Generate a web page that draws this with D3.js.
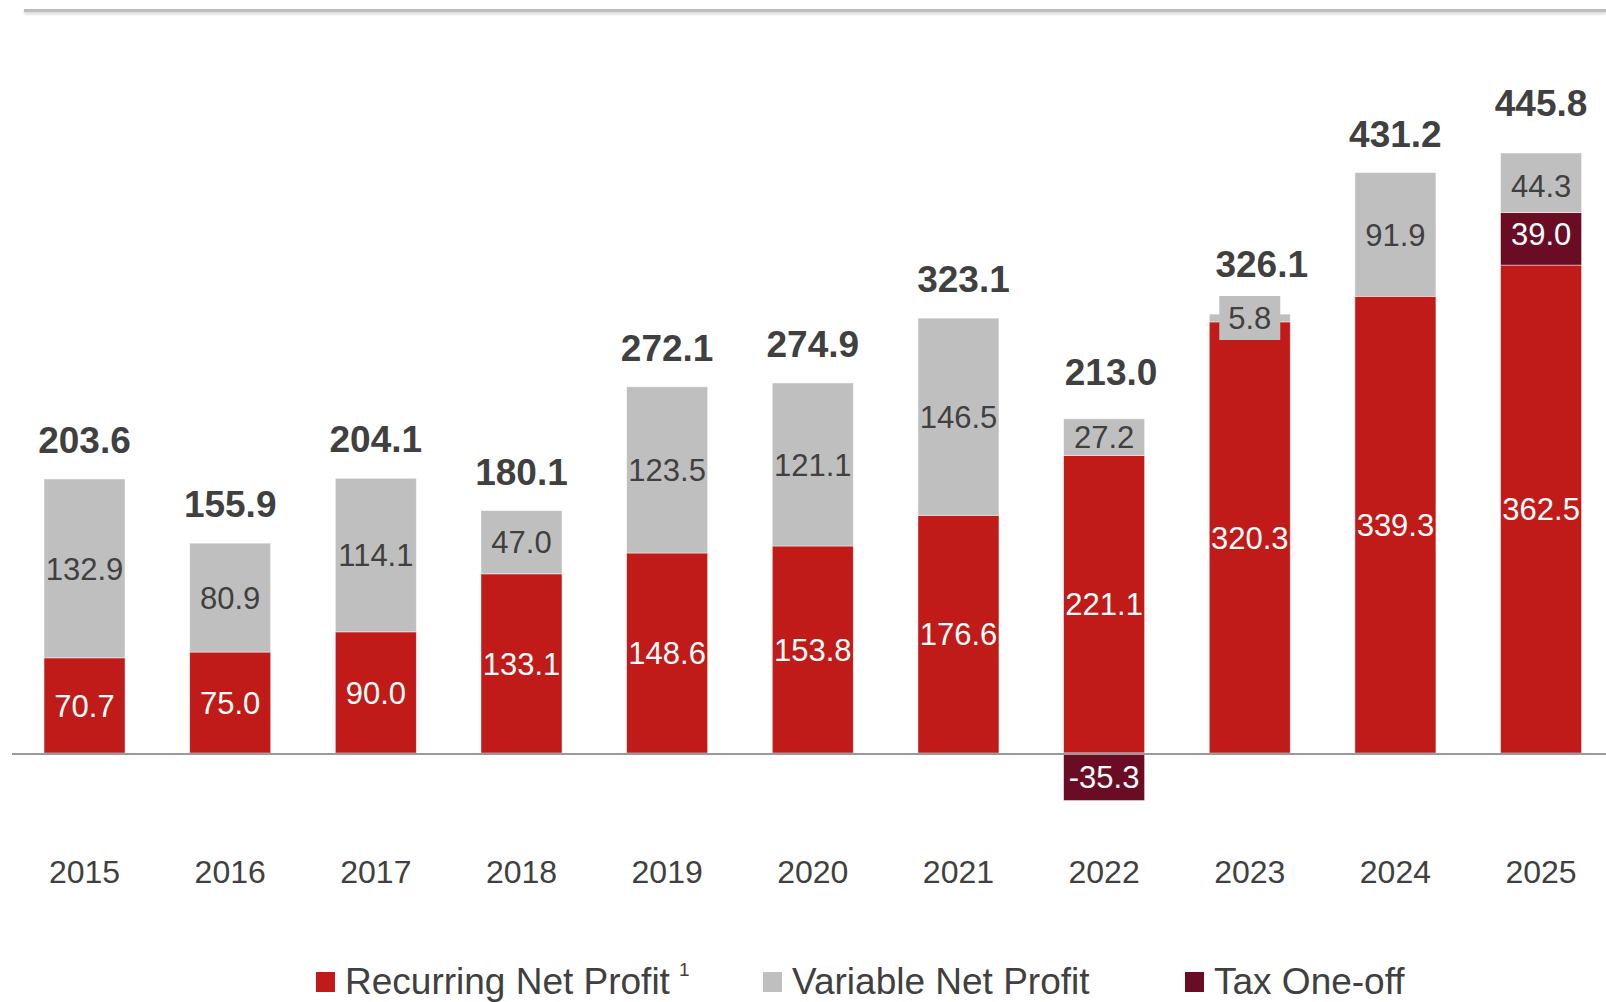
<!DOCTYPE html>
<html>
<head>
<meta charset="utf-8">
<script src="https://cdn.jsdelivr.net/npm/d3@7"></script>
<style>
  html, body { margin: 0; padding: 0; background: #fff; }
  svg { display: block; font-family: "Liberation Sans", Arial, sans-serif; }
</style>
</head>
<body>
<svg id="chart" width="1606" height="1002"></svg>
<script>
// ---- data ----
const years = ["2015","2016","2017","2018","2019","2020","2021","2022","2023","2024","2025"];
const recurring = [70.7, 75.0, 90.0, 133.1, 148.6, 153.8, 176.6, 221.1, 320.3, 339.3, 362.5];
const variable  = [132.9, 80.9, 114.1, 47.0, 123.5, 121.1, 146.5, 27.2, 5.8, 91.9, 44.3];
const taxOneOff = [0, 0, 0, 0, 0, 0, 0, -35.3, 0, 0, 39.0];
const totals    = [203.6, 155.9, 204.1, 180.1, 272.1, 274.9, 323.1, 213.0, 326.1, 431.2, 445.8];
const seriesNames = ["Recurring Net Profit", "Variable Net Profit", "Tax One-off"];

// ---- styling ----
const colRed = "#C01B18", colGray = "#BFBFBF", colDark = "#6A0D24", txt = "#404040";
const fmt = d3.formatLocale({ decimal: ".", thousands: ",", grouping: [3], currency: ["", ""], minus: "-" }).format(".1f");
const svg = d3.select("#chart");
const W = 1606;

// top rule with soft shadow
const defs = svg.append("defs");
const f = defs.append("filter").attr("id", "sh").attr("x", "-5%").attr("y", "-200%").attr("width", "110%").attr("height", "500%");
f.append("feDropShadow").attr("dx", 0).attr("dy", 2).attr("stdDeviation", 1.5).attr("flood-color", "#000").attr("flood-opacity", 0.18);
svg.append("rect").attr("x", 24).attr("y", 9).attr("width", W - 24).attr("height", 3)
  .attr("fill", "#BDBDBD").attr("filter", "url(#sh)");

// scales
const x = d3.scaleBand().domain(years).range([11.7, 1613.9]).paddingInner(0.444).paddingOuter(0.222);
const y = d3.scaleLinear().domain([0, 445.8]).range([753, 153]);

// build stacked segments
const segs = [];
years.forEach((yr, i) => {
  let pos = 0, neg = 0;
  const add = (v, key, color, tcolor) => {
    if (!v) return;
    let y0, y1;
    if (v >= 0) { y0 = pos; y1 = pos + v; pos = y1; } else { y0 = neg + v; y1 = neg; neg = y0; }
    segs.push({ yr, i, v, key, color, tcolor, y0, y1 });
  };
  add(recurring[i], "r", colRed, "#fff");
  add(taxOneOff[i], "t", colDark, "#fff");
  add(variable[i], "v", colGray, txt);
});

const g = svg.append("g");
g.selectAll("rect.seg").data(segs).join("rect").attr("class", "seg")
  .attr("x", d => x(d.yr)).attr("width", x.bandwidth())
  .attr("y", d => y(d.y1)).attr("height", d => y(d.y0) - y(d.y1))
  .attr("fill", d => d.color).attr("stroke", "rgba(255,255,255,0.55)").attr("stroke-width", 0.8);

// zero line
svg.append("line").attr("x1", 12).attr("x2", W).attr("y1", 754).attr("y2", 754)
  .attr("stroke", "#9A9A9A").attr("stroke-width", 2);

// segment labels
const segFS = 31;
const lab = g.selectAll("g.lab").data(segs).join("g").attr("class", "lab")
  .attr("transform", d => `translate(${x(d.yr) + x.bandwidth() / 2},${(y(d.y0) + y(d.y1)) / 2})`);
lab.filter(d => (y(d.y0) - y(d.y1)) < 30).append("rect")
  .attr("x", -30.5).attr("y", -22).attr("width", 61).attr("height", 44).attr("fill", d => d.color);
lab.append("text").attr("text-anchor", "middle")
  .attr("y", d => segFS * 0.36 + (d.key === "t" && d.v > 0 ? -5 : 0) + (d.key === "v" && d.yr === "2025" ? 3 : 0))
  .attr("font-size", segFS).attr("fill", d => d.tcolor)
  .text(d => fmt(d.v));

// total labels (small manual nudges as in the source slide)
const nudge = { "2021": [5, 0], "2022": [7, 8], "2023": [12, 11], "2025": [0, 11] };
g.selectAll("text.tot").data(years).join("text").attr("class", "tot")
  .attr("x", d => x(d) + x.bandwidth() / 2 + (nudge[d] ? nudge[d][0] : 0))
  .attr("y", (d, i) => {
    const top = recurring[i] + variable[i] + Math.max(0, taxOneOff[i]);
    return y(top) - 26 - (nudge[d] ? nudge[d][1] : 0);
  })
  .attr("text-anchor", "middle").attr("font-size", 37).attr("font-weight", "bold").attr("fill", txt)
  .text((d, i) => fmt(totals[i]));

// x axis labels
const xAxis = d3.axisBottom(x).tickSize(0).tickPadding(0);
const ax = svg.append("g").attr("transform", "translate(0,883)").call(xAxis);
ax.select(".domain").remove();
ax.selectAll("text").attr("dy", 0).attr("font-size", 32).attr("fill", txt)
  .attr("font-family", "Liberation Sans, Arial, sans-serif");

// legend
const legendItems = [
  { name: seriesNames[0], color: colRed, x: 316, sup: "1" },
  { name: seriesNames[1], color: colGray, x: 763 },
  { name: seriesNames[2], color: colDark, x: 1185 }
];
const lg = svg.append("g").selectAll("g").data(legendItems).join("g")
  .attr("transform", d => `translate(${d.x},0)`);
lg.append("rect").attr("x", 0).attr("y", 972).attr("width", 19).attr("height", 20).attr("fill", d => d.color);
const lt = lg.append("text").attr("x", 29).attr("y", 994).attr("font-size", 37).attr("fill", txt);
lt.append("tspan").text(d => d.name);
lt.filter(d => d.sup).append("tspan").attr("dx", 9).attr("dy", -18).attr("font-size", 19).text(d => d.sup);
</script>
</body>
</html>
